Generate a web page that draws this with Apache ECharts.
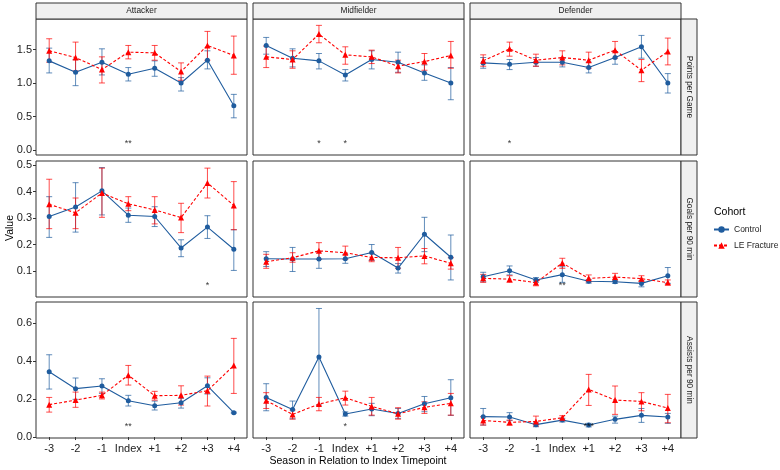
<!DOCTYPE html>
<html>
<head>
<meta charset="utf-8">
<script src="https://cdn.jsdelivr.net/npm/echarts@6/dist/echarts.min.js"></script>
<style>
  html, body { margin: 0; padding: 0; background: #fff; }
  #chart { width: 780px; height: 470px; }
</style>
</head>
<body>
<div id="chart"></div>
<script>
const seasons = ['-3', '-2', '-1', 'Index', '+1', '+2', '+3', '+4']
const positions = ['Attacker', 'Midfielder', 'Defender']
const metrics = ['Points per Game', 'Goals per 90 min', 'Assists per 90 min']

// [mean, lower, upper] per season
const ppgAttCtrl = [[1.33,1.15,1.52],[1.16,0.96,1.35],[1.31,1.12,1.51],[1.13,1.03,1.23],[1.22,1.10,1.33],[1.00,0.88,1.08],[1.34,1.21,1.48],[0.66,0.48,0.83]]
const ppgAttLE   = [[1.48,1.31,1.66],[1.38,1.18,1.61],[1.20,1.00,1.39],[1.46,1.36,1.56],[1.45,1.34,1.56],[1.17,1.04,1.30],[1.56,1.34,1.77],[1.41,1.13,1.70]]
const ppgMidCtrl = [[1.56,1.43,1.68],[1.37,1.24,1.51],[1.33,1.21,1.44],[1.12,1.03,1.20],[1.35,1.21,1.48],[1.31,1.16,1.46],[1.15,1.04,1.27],[1.00,0.75,1.23]]
const ppgMidLE   = [[1.39,1.23,1.55],[1.35,1.22,1.48],[1.73,1.60,1.86],[1.42,1.28,1.54],[1.39,1.29,1.49],[1.25,1.15,1.34],[1.32,1.19,1.44],[1.41,1.22,1.62]]
const ppgDefCtrl = [[1.30,1.22,1.38],[1.28,1.20,1.35],[1.31,1.25,1.38],[1.31,1.24,1.37],[1.23,1.15,1.31],[1.38,1.28,1.47],[1.54,1.37,1.71],[1.00,0.85,1.14]]
const ppgDefLE   = [[1.33,1.25,1.42],[1.51,1.40,1.61],[1.34,1.25,1.43],[1.38,1.27,1.48],[1.34,1.22,1.46],[1.49,1.37,1.62],[1.19,1.02,1.35],[1.47,1.27,1.67]]

const gpAttCtrl = [[0.306,0.227,0.381],[0.342,0.247,0.434],[0.403,0.312,0.491],[0.311,0.284,0.338],[0.306,0.268,0.343],[0.187,0.154,0.218],[0.266,0.223,0.309],[0.182,0.102,0.256]]
const gpAttLE   = [[0.352,0.260,0.447],[0.320,0.260,0.376],[0.395,0.303,0.489],[0.354,0.328,0.381],[0.331,0.278,0.381],[0.302,0.245,0.356],[0.433,0.376,0.489],[0.348,0.256,0.438]]
const gpMidCtrl = [[0.146,0.117,0.173],[0.145,0.098,0.189],[0.145,0.110,0.173],[0.146,0.129,0.163],[0.170,0.140,0.200],[0.111,0.092,0.128],[0.239,0.173,0.303],[0.152,0.066,0.236]]
const gpMidLE   = [[0.135,0.110,0.163],[0.150,0.133,0.169],[0.176,0.144,0.207],[0.169,0.144,0.194],[0.151,0.135,0.167],[0.150,0.110,0.189],[0.157,0.127,0.185],[0.129,0.107,0.150]]
const gpDefCtrl = [[0.078,0.059,0.095],[0.101,0.085,0.119],[0.066,0.057,0.075],[0.086,0.057,0.116],[0.061,0.054,0.068],[0.059,0.053,0.065],[0.053,0.040,0.063],[0.082,0.053,0.113]]
const gpDefLE   = [[0.072,0.057,0.087],[0.069,0.057,0.082],[0.056,0.044,0.066],[0.130,0.110,0.148],[0.072,0.059,0.085],[0.077,0.062,0.091],[0.071,0.059,0.082],[0.056,0.047,0.066]]

const apAttCtrl = [[0.343,0.252,0.432],[0.254,0.198,0.310],[0.268,0.229,0.306],[0.191,0.163,0.219],[0.164,0.142,0.189],[0.180,0.152,0.203],[0.269,0.226,0.311],[0.128,0.125,0.131]]
const apAttLE   = [[0.170,0.131,0.208],[0.194,0.156,0.236],[0.219,0.200,0.236],[0.325,0.273,0.376],[0.217,0.194,0.240],[0.219,0.168,0.269],[0.243,0.163,0.320],[0.376,0.229,0.518]]
const apMidCtrl = [[0.208,0.138,0.280],[0.145,0.096,0.189],[0.420,0.168,0.675],[0.121,0.110,0.132],[0.147,0.112,0.177],[0.124,0.098,0.150],[0.175,0.133,0.213],[0.206,0.114,0.301]]
const apMidLE   = [[0.191,0.150,0.233],[0.119,0.094,0.142],[0.173,0.138,0.208],[0.206,0.168,0.241],[0.161,0.115,0.208],[0.122,0.094,0.154],[0.156,0.124,0.185],[0.177,0.115,0.229]]
const apDefCtrl = [[0.107,0.063,0.150],[0.105,0.086,0.128],[0.065,0.054,0.075],[0.089,0.079,0.099],[0.063,0.053,0.072],[0.093,0.073,0.110],[0.114,0.077,0.150],[0.105,0.072,0.124]]
const apDefLE   = [[0.087,0.063,0.107],[0.077,0.063,0.089],[0.082,0.058,0.110],[0.101,0.089,0.112],[0.250,0.166,0.329],[0.194,0.119,0.268],[0.187,0.138,0.233],[0.152,0.075,0.224]]

// significance marks: [position, season, text]
const ppgStars = [['Attacker','Index','**'],['Midfielder','-1','*'],['Midfielder','Index','*'],['Defender','-2','*']]
const gpStars = [['Attacker','+3','*'],['Defender','Index','**']]
const apStars = [['Attacker','Index','**'],['Midfielder','Index','*'],['Defender','+1','***']]
const starLevel = [0.09, 0.044, 0.054]

const yMin = [-0.075, 0.0015, -0.005]
const yMax = [1.955, 0.516, 0.709]
const yTicks = [[0, 0.5, 1, 1.5], [0.1, 0.2, 0.3, 0.4, 0.5], [0, 0.2, 0.4, 0.6]]

const ctrlData = [[ppgAttCtrl, ppgMidCtrl, ppgDefCtrl], [gpAttCtrl, gpMidCtrl, gpDefCtrl], [apAttCtrl, apMidCtrl, apDefCtrl]]
const leData = [[ppgAttLE, ppgMidLE, ppgDefLE], [gpAttLE, gpMidLE, gpDefLE], [apAttLE, apMidLE, apDefLE]]
const starData = [ppgStars, gpStars, apStars]

const BLUE = '#1f5c9e'
const RED = '#ff0000'
const FONT = 'Liberation Sans, Arial, sans-serif'
const colX = [36, 253, 470]
const rowY = [19, 161, 302]
const PW = 211, PH = 136

const errBar = (color) => (params, api) => {
  const x = api.value(0)
  const lo = api.coord([x, api.value(1)])
  const hi = api.coord([x, api.value(2)])
  const w = 3
  const st = { stroke: color, lineWidth: 1, opacity: 0.7 }
  return {
    type: 'group',
    children: [
      { type: 'line', shape: { x1: lo[0], y1: lo[1], x2: hi[0], y2: hi[1] }, style: st },
      { type: 'line', shape: { x1: lo[0] - w, y1: lo[1], x2: lo[0] + w, y2: lo[1] }, style: st },
      { type: 'line', shape: { x1: hi[0] - w, y1: hi[1], x2: hi[0] + w, y2: hi[1] }, style: st }
    ]
  }
}

const grid = [], xAxis = [], yAxis = [], series = [], graphic = []

for (let r = 0; r < 3; r++) {
  for (let c = 0; c < 3; c++) {
    const k = r * 3 + c
    grid.push({ left: colX[c], top: rowY[r], width: PW, height: PH, show: true, borderColor: '#333', borderWidth: 1, backgroundColor: '#fff' })
    xAxis.push({
      type: 'category', gridIndex: k, data: seasons, boundaryGap: true,
      axisLine: { show: false },
      axisTick: { show: r === 2, alignWithLabel: true, interval: 0, length: 3, lineStyle: { color: '#333' } },
      axisLabel: { show: r === 2, interval: 0, fontSize: 11, color: '#222', margin: 5, fontFamily: FONT },
      splitLine: { show: false }
    })
    yAxis.push({
      type: 'value', gridIndex: k, min: yMin[r], max: yMax[r],
      axisLine: { show: false },
      axisTick: { show: c === 0, length: 3, lineStyle: { color: '#333' }, customValues: yTicks[r] },
      axisLabel: { show: c === 0, fontSize: 11, color: '#222', margin: 4, fontFamily: FONT, customValues: yTicks[r], formatter: v => v.toFixed(1) },
      splitLine: { show: false }
    })
    const ctrl = ctrlData[r][c], le = leData[r][c]
    series.push({
      type: 'custom', xAxisIndex: k, yAxisIndex: k, renderItem: errBar(BLUE),
      data: ctrl.map((d, i) => [i, d[1], d[2]]), encode: { x: 0, y: [1, 2] }, silent: true, z: 1
    })
    series.push({
      type: 'custom', xAxisIndex: k, yAxisIndex: k, renderItem: errBar(RED),
      data: le.map((d, i) => [i, d[1], d[2]]), encode: { x: 0, y: [1, 2] }, silent: true, z: 1
    })
    series.push({
      name: 'Control', type: 'line', xAxisIndex: k, yAxisIndex: k,
      data: ctrl.map(d => d[0]), symbol: 'circle', symbolSize: 5,
      lineStyle: { color: BLUE, width: 1.1 }, itemStyle: { color: BLUE }, z: 3
    })
    series.push({
      name: 'LE Fracture', type: 'line', xAxisIndex: k, yAxisIndex: k,
      data: le.map(d => d[0]), symbol: 'triangle', symbolSize: 6,
      lineStyle: { color: RED, width: 1.1, type: [3, 2] }, itemStyle: { color: RED }, z: 3
    })
    const stars = starData[r].filter(s => s[0] === positions[c])
    if (stars.length) {
      series.push({
        type: 'scatter', xAxisIndex: k, yAxisIndex: k, symbolSize: 0, silent: true,
        data: stars.map(s => ({ value: [seasons.indexOf(s[1]), starLevel[r]], name: s[2] })),
        label: { show: true, position: 'inside', formatter: '{b}', fontSize: 9, color: '#000', fontFamily: FONT },
        z: 4
      })
    }
  }
}

// facet strips
positions.forEach((p, c) => {
  graphic.push({ type: 'rect', shape: { x: colX[c], y: 3, width: PW, height: 16 }, style: { fill: '#f0f0f0', stroke: '#333', lineWidth: 1 } })
  graphic.push({ type: 'text', x: colX[c] + PW / 2, y: 11, style: { text: p, fill: '#1a1a1a', font: '8.3px ' + FONT, align: 'center', verticalAlign: 'middle' } })
})
metrics.forEach((m, r) => {
  graphic.push({ type: 'rect', shape: { x: 681, y: rowY[r], width: 16, height: PH }, style: { fill: '#f0f0f0', stroke: '#333', lineWidth: 1 } })
  graphic.push({ type: 'text', x: 689, y: rowY[r] + PH / 2, rotation: -Math.PI / 2, style: { text: m, fill: '#1a1a1a', font: '8.3px ' + FONT, align: 'center', verticalAlign: 'middle' } })
})
graphic.push({ type: 'text', x: 358, y: 461, style: { text: 'Season in Relation to Index Timepoint', fill: '#000', font: '10.5px ' + FONT, align: 'center', verticalAlign: 'middle' } })
graphic.push({ type: 'text', x: 10, y: 228, rotation: Math.PI / 2, style: { text: 'Value', fill: '#000', font: '10.5px ' + FONT, align: 'center', verticalAlign: 'middle' } })
graphic.push({ type: 'text', x: 714, y: 212, style: { text: 'Cohort', fill: '#000', font: '10.5px ' + FONT, align: 'left', verticalAlign: 'middle' } })

const chart = echarts.init(document.getElementById('chart'), null, { renderer: 'canvas' })
chart.setOption({
  animation: false,
  textStyle: { fontFamily: FONT },
  grid, xAxis, yAxis, series, graphic,
  legend: {
    data: ['Control', 'LE Fracture'], orient: 'vertical', left: 713, top: 225, padding: 0,
    itemWidth: 15, itemHeight: 8, itemGap: 7,
    textStyle: { fontSize: 8.5, color: '#222', fontFamily: FONT }
  }
})
</script>
</body>
</html>
